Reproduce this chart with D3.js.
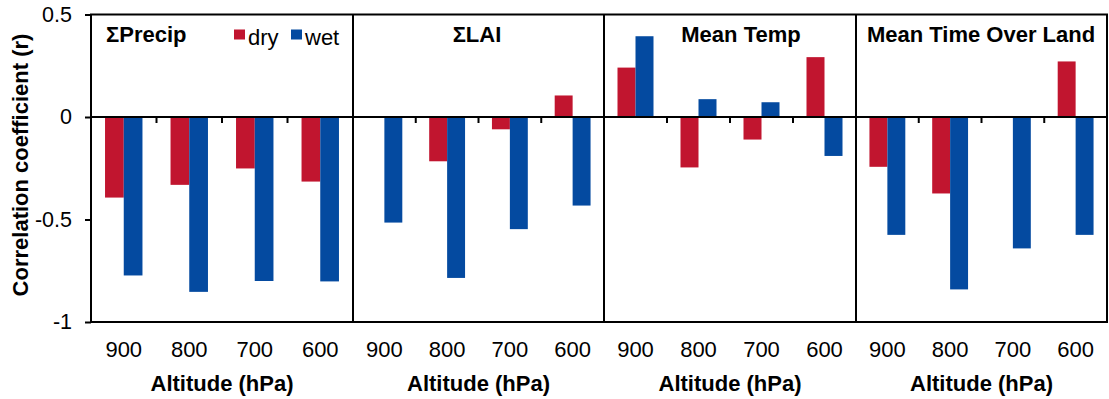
<!DOCTYPE html>
<html>
<head>
<meta charset="utf-8">
<script src="https://cdn.jsdelivr.net/npm/d3@7"></script>
<style>
  html, body { margin: 0; padding: 0; background: #fff; }
  svg { display: block; font-family: "Liberation Sans", Arial, Helvetica, sans-serif; }
</style>
</head>
<body>
<svg id="chart" width="1109" height="399"></svg>
<script>
// Altitude levels (hPa) shared by every panel
const altitudes = ["900", "800", "700", "600"];
const seriesNames = ["dry", "wet"];
const panelTitles = ["\u03A3Precip", "\u03A3LAI", "Mean Temp", "Mean Time Over Land"];

// Correlation coefficients per panel, one value per altitude
const precipDry = [-0.393, -0.331, -0.251, -0.315];
const precipWet = [-0.773, -0.853, -0.800, -0.802];
const laiDry    = [0.000, -0.216, -0.060, 0.105];
const laiWet    = [-0.515, -0.785, -0.547, -0.432];
const tempDry   = [0.241, -0.246, -0.110, 0.292];
const tempWet   = [0.394, 0.087, 0.072, -0.190];
const landDry   = [-0.243, -0.373, 0.005, 0.271];
const landWet   = [-0.575, -0.841, -0.641, -0.575];

const yTicks = [0.5, 0, -0.5, -1];
const yTickLabels = ["0.5", "0", "-0.5", "-1"];

const colors = { dry: "#C1152F", wet: "#044AA0" };

const panels = [
  { title: panelTitles[0], dry: precipDry, wet: precipWet },
  { title: panelTitles[1], dry: laiDry, wet: laiWet },
  { title: panelTitles[2], dry: tempDry, wet: tempWet },
  { title: panelTitles[3], dry: landDry, wet: landWet }
];

// Layout
const plotTop = 14.5, plotBottom = 322;
const panelEdges = [91, 353, 604, 856, 1107];
const titleLayout = [
  { x: 106, anchor: "start" },
  { x: 477, anchor: "middle" },
  { x: 741, anchor: "middle" },
  { x: 981, anchor: "middle" }
];

const svg = d3.select("#chart");

const y = d3.scaleLinear().domain([-1, 0.5]).range([plotBottom, plotTop]);

// Left axis
const yAxis = d3.axisLeft(y)
  .tickValues(yTicks)
  .tickFormat((d, i) => yTickLabels[i])
  .tickSizeInner(6)
  .tickSizeOuter(0)
  .tickPadding(13);

const yg = svg.append("g").attr("transform", `translate(${panelEdges[0]},0)`).call(yAxis);
yg.select(".domain").remove();
yg.selectAll(".tick line").attr("stroke", "#000").attr("stroke-width", 2);
yg.selectAll(".tick text")
  .attr("font-size", 21.5)
  .attr("fill", "#000")
  .style("font-family", "'Liberation Sans', Arial, sans-serif");

// Y axis title
svg.append("text")
  .attr("transform", `translate(28,165) rotate(-90)`)
  .attr("text-anchor", "middle")
  .attr("font-size", 22)
  .attr("font-weight", "bold")
  .text("Correlation coefficient (r)");

panels.forEach((p, pi) => {
  const x0 = panelEdges[pi], x1 = panelEdges[pi + 1];
  const x = d3.scaleBand().domain(altitudes).range([x0, x1]).padding(0);
  const xs = d3.scaleBand().domain(seriesNames).range([0, x.bandwidth()])
    .paddingInner(0).paddingOuter(0.75);

  const g = svg.append("g");

  // Bars
  seriesNames.forEach(s => {
    const vals = p[s];
    g.selectAll(null)
      .data(altitudes.map((a, i) => ({ a, v: vals[i] })))
      .join("rect")
      .attr("x", d => x(d.a) + xs(s))
      .attr("width", xs.bandwidth())
      .attr("y", d => Math.min(y(d.v), y(0)))
      .attr("height", d => Math.abs(y(d.v) - y(0)))
      .attr("fill", colors[s]);
  });

  // Zero line with boundary ticks
  g.append("line")
    .attr("x1", x0).attr("x2", x1)
    .attr("y1", y(0)).attr("y2", y(0))
    .attr("stroke", "#000").attr("stroke-width", 2);
  g.selectAll(null)
    .data(altitudes.slice(1))
    .join("line")
    .attr("x1", d => x(d)).attr("x2", d => x(d))
    .attr("y1", y(0)).attr("y2", y(0) + 6)
    .attr("stroke", "#000").attr("stroke-width", 2);

  // Category labels
  g.selectAll(null)
    .data(altitudes)
    .join("text")
    .attr("x", d => x(d) + x.bandwidth() / 2)
    .attr("y", 357)
    .attr("text-anchor", "middle")
    .attr("font-size", 22)
    .text(d => d);

  // X axis title
  g.append("text")
    .attr("x", (x0 + x1) / 2)
    .attr("y", 391)
    .attr("text-anchor", "middle")
    .attr("font-size", 22)
    .attr("font-weight", "bold")
    .text("Altitude (hPa)");

  // Panel title
  g.append("text")
    .attr("x", titleLayout[pi].x)
    .attr("y", 42)
    .attr("text-anchor", titleLayout[pi].anchor)
    .attr("font-size", 22)
    .attr("font-weight", "bold")
    .text(p.title);
});

// Frame and panel dividers
svg.append("rect")
  .attr("x", panelEdges[0]).attr("y", plotTop)
  .attr("width", panelEdges[4] - panelEdges[0]).attr("height", plotBottom - plotTop)
  .attr("fill", "none").attr("stroke", "#000").attr("stroke-width", 2);
svg.selectAll(null)
  .data(panelEdges.slice(1, 4))
  .join("line")
  .attr("x1", d => d).attr("x2", d => d)
  .attr("y1", plotTop).attr("y2", plotBottom)
  .attr("stroke", "#000").attr("stroke-width", 2);

// Legend
const legend = svg.append("g");
const legendItems = [
  { s: "dry", x: 234 },
  { s: "wet", x: 291 }
];
legendItems.forEach(it => {
  legend.append("rect")
    .attr("x", it.x).attr("y", 29.5)
    .attr("width", 11).attr("height", 10)
    .attr("fill", colors[it.s]);
  legend.append("text")
    .attr("x", it.x + 14).attr("y", 45)
    .attr("font-size", 22)
    .text(it.s);
});
</script>
</body>
</html>
